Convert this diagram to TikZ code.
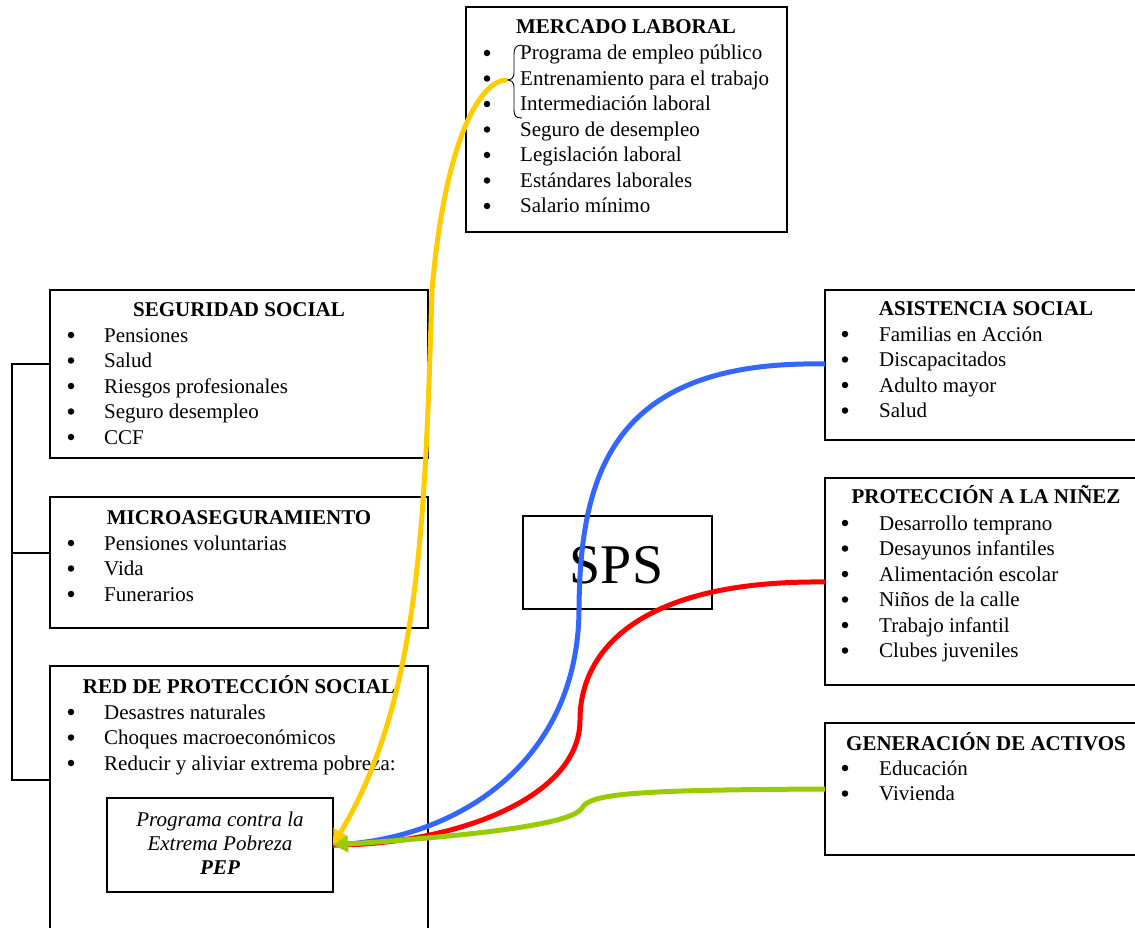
\documentclass[tikz,border=0pt]{standalone}
\usepackage{fontspec}
\setmainfont{Liberation Serif}
\usetikzlibrary{arrows.meta}
\definecolor{cyel}{HTML}{FFCC00}
\definecolor{cblue}{HTML}{3366FF}
\definecolor{cred}{HTML}{FF0000}
\definecolor{cgreen}{HTML}{99CC00}
\newcommand\itemlist[5]{%
  \foreach \t [count=\i] in {#5}{%
    \node[bul] (#1b\i) at (#2,{#4+25.5*(\i-1)}) {};
    \node[itm] (#1t\i) at (#3,{#4+25.5*(\i-1)}) {\t};
  }}
\tikzset{
  box/.style={draw=black, line width=1.1pt, anchor=north west, inner sep=0pt, outer sep=0pt},
  bul/.style={circle, fill=black, inner sep=0pt, minimum size=6.5pt, yshift=7pt},
  itm/.style={anchor=base west, inner sep=0pt, font=\fontsize{21}{25.5}\selectfont},
  ttl/.style={anchor=base, inner sep=0pt, font=\fontsize{21}{25.5}\selectfont\bfseries},
  pept/.style={anchor=base, inner sep=0pt, font=\fontsize{21}{25.5}\selectfont\itshape},
  conn/.style={line width=5pt},
  tip/.style={-{Triangle[length=15pt,width=16pt]}},
}
\begin{document}
\begin{tikzpicture}[x=1pt,y=-1pt]
\useasboundingbox (0,0) rectangle (1135,928);
% boxes
\node[box, minimum width=321pt, minimum height=225pt] (ml) at (466,7) {};
\node[box, minimum width=378pt, minimum height=168pt] (ss) at (50,290) {};
\node[box, minimum width=378pt, minimum height=131pt] (mi) at (50,497) {};
\node[box, minimum width=378pt, minimum height=280pt] (rp) at (50,666) {};
\node[box, minimum width=226pt, minimum height=94pt] (pep) at (107,798) {};
\node[box, minimum width=189pt, minimum height=93pt] (sps) at (523,516) {};
\node[box, minimum width=330pt, minimum height=150pt] (as) at (825,290) {};
\node[box, minimum width=330pt, minimum height=207pt] (pn) at (825,478) {};
\node[box, minimum width=330pt, minimum height=132pt] (ga) at (825,723) {};
% texts
\node[ttl] (mlt) at (626,34) {MERCADO LABORAL};
\itemlist{ml}{487}{520}{60}{Programa de empleo público,Entrenamiento para el trabajo,Intermediación laboral,Seguro de desempleo,Legislación laboral,Estándares laborales,Salario mínimo}
\node[ttl] (sst) at (239,316) {SEGURIDAD SOCIAL};
\itemlist{ss}{71}{104}{342}{Pensiones,Salud,Riesgos profesionales,Seguro desempleo,CCF}
\node[ttl] (mit) at (239,524) {MICROASEGURAMIENTO};
\itemlist{mi}{71}{104}{550}{Pensiones voluntarias,Vida,Funerarios}
\node[ttl] (rpt) at (239,693) {RED DE PROTECCIÓN SOCIAL};
\itemlist{rp}{71}{104}{719}{Desastres naturales,Choques macroeconómicos,Reducir y aliviar extrema pobreza:}
\node[pept] (pep1) at (220,826) {Programa contra la};
\node[pept] (pep2) at (220,850) {Extrema Pobreza};
\node[pept, font=\fontsize{21}{25.5}\selectfont\bfseries\itshape] (pep3) at (220,874) {PEP};
\node[anchor=base, inner sep=0pt, font=\fontsize{56}{60}\selectfont] (spst) at (616.5,583) {SPS};
\node[ttl] (ast) at (986,315) {ASISTENCIA SOCIAL};
\itemlist{as}{845}{879}{341}{Familias en Acción,Discapacitados,Adulto mayor,Salud}
\node[ttl] (pnt) at (986,503) {PROTECCIÓN A LA NIÑEZ};
\itemlist{pn}{845}{879}{530}{Desarrollo temprano,Desayunos infantiles,Alimentación escolar,Niños de la calle,Trabajo infantil,Clubes juveniles}
\node[ttl] (gat) at (986,750) {GENERACIÓN DE ACTIVOS};
\itemlist{ga}{845}{879}{775}{Educación,Vivienda}
% brace
\coordinate (bt) at (507,80);
\draw[line width=0.9pt] (522,45) .. controls (516,45) and (514,48) .. (514,54) -- (514,73) .. controls (514,78) and (511,80) .. (bt) .. controls (511,80) and (514,82) .. (514,87) -- (514,110) .. controls (514,116) and (516,118) .. (522,118);
% left bracket
\coordinate (j1) at (12,364);
\coordinate (j2) at (12,553);
\coordinate (j3) at (12,780);
\draw[line width=1.1pt] (ss.west |- j1) -- (j1) -- (j3) -- (rp.west |- j3);
\draw[line width=1.1pt] (j2) -- (mi.west |- j2);
% connectors
\coordinate (ain) at (825,364);
\coordinate (rin) at (825,582);
\coordinate (gin) at (825,789);
\draw[conn, cblue] (ain) .. controls (615,360) and (580,470) .. (579,610) .. controls (578,760) and (460,840) .. (pep.east);
\draw[conn, cred] (rin) .. controls (640,580) and (580,650) .. (580,720) .. controls (580,800) and (450,845) .. (pep.east);
\draw[conn, cyel, tip] (bt) .. controls (480,80) and (445,140) .. (432,290) .. controls (425,520) and (420,700) .. (pep.east);
\draw[conn, cgreen, tip] (gin) .. controls (640,790) and (590,793) .. (582,808) .. controls (574,822) and (500,834) .. (pep.east);
\end{tikzpicture}
\end{document}
